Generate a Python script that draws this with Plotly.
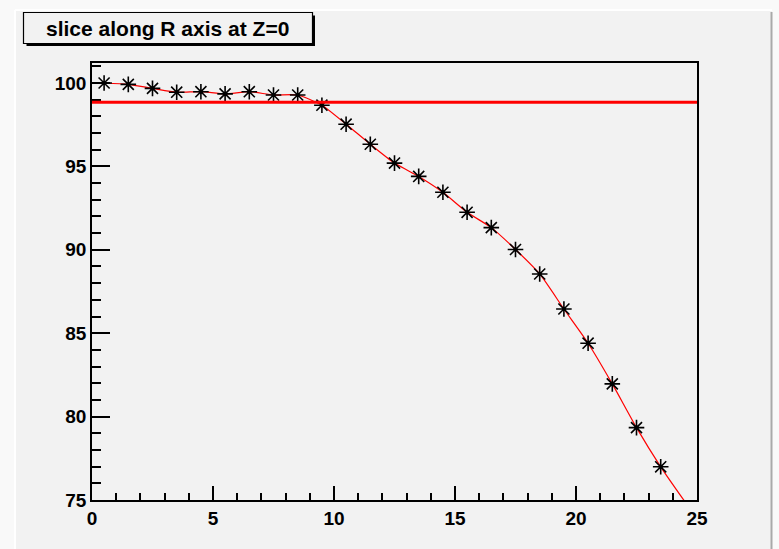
import plotly.graph_objects as go

# ---- data ----
r_values = [0.5, 1.5, 2.5, 3.5, 4.5, 5.5, 6.5, 7.5, 8.5, 9.5, 10.5, 11.5,
            12.5, 13.5, 14.5, 15.5, 16.5, 17.5, 18.5, 19.5, 20.5, 21.5, 22.5, 23.5]
field_values = [100.0, 99.92, 99.68, 99.45, 99.48, 99.35, 99.48, 99.28, 99.28, 98.67,
                97.53, 96.33, 95.2, 94.4, 93.45, 92.25, 91.33, 90.02, 88.55, 86.45,
                84.4, 81.96, 79.34, 76.99]
curve_tail_r = [24.5]
curve_tail_value = [74.9]
ref_level = 98.84
title_text = "slice along R axis at Z=0"
x_range = [0, 25]
y_range = [75, 101.2]

# ---- layout geometry (pixels) ----
FW, FH = 779, 549
L, R, T, B = 92, 697, 63, 500
W, H = R - L, B - T


def px(x):
    return (x - L) / W


def py(y):
    return (B - y) / H


FONT = "Liberation Sans, Arial, Helvetica, sans-serif"

fig = go.Figure()

fig.add_trace(go.Scatter(
    x=r_values + curve_tail_r, y=field_values + curve_tail_value,
    mode="lines", line=dict(color="red", width=1.2, shape="spline", smoothing=0.6),
    hoverinfo="skip", showlegend=False))

fig.add_trace(go.Scatter(
    x=r_values, y=field_values, mode="markers",
    marker=dict(symbol="asterisk-open", size=13, color="black",
                line=dict(color="black", width=1.6)),
    showlegend=False))
fig.add_trace(go.Scatter(
    x=r_values, y=field_values, mode="markers",
    marker=dict(symbol="circle", size=4, color="black"),
    hoverinfo="skip", showlegend=False))

shapes = []
# canvas background and bevel
shapes.append(dict(type="rect", xref="paper", yref="paper", layer="below",
                   x0=px(15), x1=px(772), y0=py(560), y1=py(10),
                   fillcolor="#f2f2f2", line=dict(width=0)))
shapes.append(dict(type="line", xref="paper", yref="paper", layer="below",
                   x0=px(15), x1=px(15), y0=py(560), y1=py(10),
                   line=dict(color="white", width=2)))
shapes.append(dict(type="line", xref="paper", yref="paper", layer="below",
                   x0=px(15), x1=px(772), y0=py(10), y1=py(10),
                   line=dict(color="white", width=2)))
shapes.append(dict(type="line", xref="paper", yref="paper", layer="below",
                   x0=px(771.5), x1=px(771.5), y0=py(560), y1=py(12),
                   line=dict(color="#a9a9a9", width=2)))
# reference level line
shapes.append(dict(type="line", xref="paper", yref="y", layer="above",
                   x0=0, x1=1, y0=ref_level, y1=ref_level,
                   line=dict(color="red", width=3)))
# title box shadow and box
shapes.append(dict(type="rect", xref="paper", yref="paper", layer="above",
                   x0=px(26.5), x1=px(315), y0=py(46), y1=py(15.5),
                   fillcolor="black", line=dict(width=0)))
shapes.append(dict(type="rect", xref="paper", yref="paper", layer="above",
                   x0=px(23.5), x1=px(312.5), y0=py(43.5), y1=py(12.5),
                   fillcolor="#f2f2f2", line=dict(color="black", width=1.2)))

fig.update_layout(
    width=FW, height=FH,
    margin=dict(l=L, r=FW - R, t=T, b=FH - B),
    paper_bgcolor="#f9f9f9", plot_bgcolor="#f2f2f2",
    shapes=shapes,
    annotations=[dict(text=title_text, xref="paper", yref="paper",
                      x=px(167), y=py(28.5), xanchor="center", yanchor="middle",
                      showarrow=False,
                      font=dict(family=FONT, size=21, color="black", weight="bold"))],
    font=dict(family=FONT),
)

axis_common = dict(showline=True, linecolor="black", linewidth=1.5, mirror=True,
                   showgrid=False, zeroline=False, ticks="inside",
                   tickcolor="black", tickwidth=1.5,
                   tickfont=dict(family=FONT, size=19, color="black", weight="bold"))

fig.update_xaxes(range=x_range, dtick=5, tick0=0, ticklen=14,
                 minor=dict(dtick=1, ticks="inside", ticklen=7, tickcolor="black", tickwidth=1.5),
                 **axis_common)
fig.update_yaxes(range=y_range, dtick=5, tick0=75, ticklen=18,
                 minor=dict(dtick=1, ticks="inside", ticklen=9, tickcolor="black", tickwidth=1.5),
                 **axis_common)

fig.write_html("out.html")
